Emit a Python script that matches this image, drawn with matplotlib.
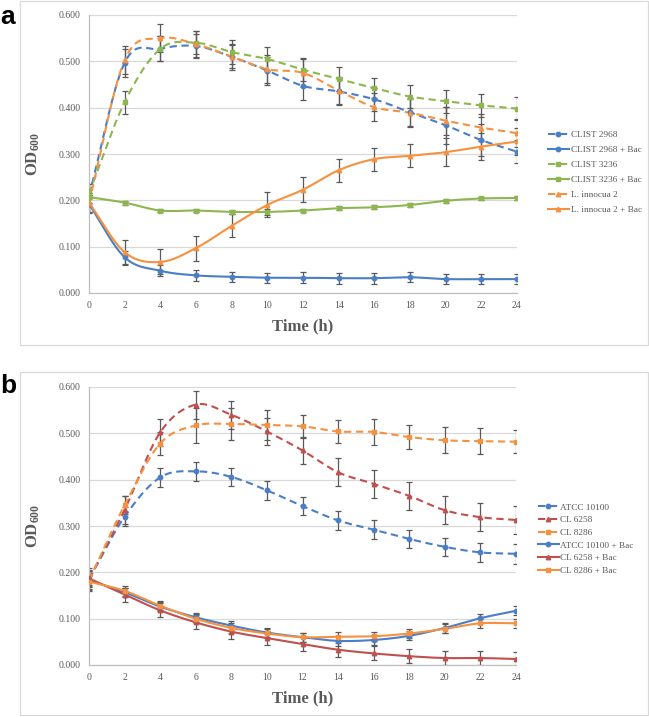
import numpy as np
import matplotlib
matplotlib.use('Agg')
import matplotlib.pyplot as plt
from matplotlib.patches import Rectangle
from matplotlib.lines import Line2D

hours = [0, 2, 4, 6, 8, 10, 12, 14, 16, 18, 20, 22, 24]

# panel a
clist2968 = [0.210, 0.497, 0.527, 0.533, 0.510, 0.480, 0.447, 0.435, 0.418, 0.390, 0.362, 0.330, 0.305]
clist2968_err = [0.025, 0.030, 0.027, 0.025, 0.025, 0.030, 0.030, 0.030, 0.025, 0.030, 0.040, 0.035, 0.025]
clist2968_bac = [0.192, 0.077, 0.048, 0.038, 0.035, 0.033, 0.033, 0.032, 0.032, 0.034, 0.030, 0.030, 0.030]
clist2968_bac_err = [0.020, 0.014, 0.012, 0.012, 0.011, 0.011, 0.012, 0.012, 0.012, 0.011, 0.011, 0.010, 0.010]
clist3236 = [0.215, 0.412, 0.527, 0.540, 0.520, 0.505, 0.482, 0.462, 0.442, 0.424, 0.414, 0.405, 0.398]
clist3236_err = [0.020, 0.025, 0.027, 0.025, 0.025, 0.025, 0.025, 0.025, 0.022, 0.025, 0.025, 0.025, 0.025]
clist3236_bac = [0.207, 0.195, 0.178, 0.178, 0.175, 0.175, 0.178, 0.183, 0.185, 0.190, 0.199, 0.204, 0.205]
clist3236_bac_err = [0.005, 0.004, 0.004, 0.004, 0.004, 0.006, 0.004, 0.004, 0.004, 0.004, 0.004, 0.004, 0.004]
innocua2 = [0.195, 0.503, 0.550, 0.537, 0.510, 0.483, 0.475, 0.437, 0.401, 0.389, 0.372, 0.357, 0.345]
innocua2_err = [0.020, 0.030, 0.030, 0.028, 0.028, 0.030, 0.030, 0.030, 0.030, 0.030, 0.030, 0.030, 0.030]
innocua2_bac = [0.195, 0.088, 0.067, 0.097, 0.145, 0.190, 0.223, 0.265, 0.289, 0.296, 0.304, 0.316, 0.327]
innocua2_bac_err = [0.020, 0.027, 0.027, 0.027, 0.025, 0.027, 0.027, 0.025, 0.025, 0.025, 0.030, 0.030, 0.030]

# panel b
atcc10100 = [0.185, 0.320, 0.405, 0.418, 0.406, 0.377, 0.343, 0.312, 0.292, 0.272, 0.255, 0.243, 0.240]
atcc10100_err = [0.020, 0.020, 0.020, 0.020, 0.020, 0.020, 0.020, 0.020, 0.020, 0.020, 0.020, 0.020, 0.022]
cl6258 = [0.185, 0.335, 0.502, 0.562, 0.540, 0.504, 0.463, 0.416, 0.391, 0.365, 0.334, 0.319, 0.313]
cl6258_err = [0.025, 0.030, 0.030, 0.030, 0.030, 0.030, 0.030, 0.030, 0.030, 0.030, 0.030, 0.030, 0.030]
cl8286 = [0.182, 0.345, 0.478, 0.517, 0.520, 0.518, 0.515, 0.504, 0.503, 0.492, 0.485, 0.483, 0.482]
cl8286_err = [0.020, 0.020, 0.025, 0.038, 0.035, 0.032, 0.025, 0.025, 0.028, 0.025, 0.028, 0.028, 0.025]
atcc10100_bac = [0.183, 0.157, 0.126, 0.103, 0.085, 0.070, 0.060, 0.052, 0.054, 0.063, 0.080, 0.101, 0.117]
atcc10100_bac_err = [0.012, 0.010, 0.010, 0.010, 0.010, 0.010, 0.010, 0.010, 0.010, 0.010, 0.010, 0.010, 0.010]
cl6258_bac = [0.187, 0.152, 0.118, 0.092, 0.072, 0.058, 0.045, 0.033, 0.025, 0.019, 0.015, 0.015, 0.013]
cl6258_bac_err = [0.015, 0.015, 0.015, 0.015, 0.015, 0.015, 0.015, 0.015, 0.015, 0.015, 0.015, 0.015, 0.015]
cl8286_bac = [0.180, 0.160, 0.128, 0.100, 0.080, 0.068, 0.060, 0.061, 0.062, 0.068, 0.078, 0.090, 0.090]
cl8286_bac_err = [0.012, 0.010, 0.010, 0.010, 0.010, 0.010, 0.010, 0.010, 0.010, 0.010, 0.010, 0.010, 0.010]

BLUE = '#4A7EC7'
GREEN = '#8DB74E'
ORANGE = '#F5913F'
RED = '#C0504D'
GREY = '#595959'
SERIF = 'Liberation Serif'
DASH = (0, (3.5, 2.2))


def smooth(x, y, n=20):
    # catmull-rom curve, close to excel "smoothed line"
    x = np.asarray(x, float)
    y = np.asarray(y, float)
    px = np.concatenate([[2 * x[0] - x[1]], x, [2 * x[-1] - x[-2]]])
    py = np.concatenate([[2 * y[0] - y[1]], y, [2 * y[-1] - y[-2]]])
    xs, ys = [], []
    t = np.linspace(0, 1, n, endpoint=False)
    for i in range(1, len(px) - 2):
        for p, out in ((px, xs), (py, ys)):
            p0, p1, p2, p3 = p[i - 1], p[i], p[i + 1], p[i + 2]
            out.extend(0.5 * (2 * p1 + (-p0 + p2) * t + (2 * p0 - 5 * p1 + 4 * p2 - p3) * t ** 2
                              + (-p0 + 3 * p1 - 3 * p2 + p3) * t ** 3))
    xs.append(x[-1])
    ys.append(y[-1])
    return xs, ys


def series(ax, y, err, color, marker, dashed, label):
    ls = DASH if dashed else '-'
    ax.errorbar(hours, y, yerr=err, fmt='none', ecolor=GREY, elinewidth=0.9, capsize=2, capthick=0.9, zorder=2)
    sx, sy = smooth(hours, y)
    ax.plot(sx, sy, color=color, lw=1.5, linestyle=ls, zorder=3)
    ax.plot(hours, y, linestyle='none', marker=marker, ms=3.2, color=color, zorder=4)
    return Line2D([], [], color=color, lw=1.5, linestyle=ls, marker=marker, ms=3.2, label=label)


def style_axes(ax):
    ax.set_xlim(0, 24)
    ax.set_ylim(0, 0.6)
    ax.set_xticks(hours)
    ax.set_yticks(np.arange(0, 0.61, 0.1))
    ax.set_yticklabels(['%.3f' % v for v in np.arange(0, 0.61, 0.1)])
    ax.yaxis.grid(True, color='#D9D9D9', lw=0.9)
    ax.set_axisbelow(True)
    for s in ['top', 'right']:
        ax.spines[s].set_visible(False)
    for s in ['left', 'bottom']:
        ax.spines[s].set_color('#BFBFBF')
        ax.spines[s].set_linewidth(0.9)
    ax.tick_params(length=0, labelsize=7, labelcolor=GREY, pad=6)
    for lab in ax.get_xticklabels() + ax.get_yticklabels():
        lab.set_family(SERIF)
    ax.set_xlabel('Time (h)', family=SERIF, fontsize=12, fontweight='bold', color=GREY, labelpad=6)
    ax.set_ylabel(r'OD$_{600}$', family=SERIF, fontsize=12, fontweight='bold', color=GREY, labelpad=12)


plt.rcParams['mathtext.fontset'] = 'custom'
plt.rcParams['mathtext.rm'] = 'Liberation Serif:bold'
plt.rcParams['mathtext.it'] = 'Liberation Serif:bold'
plt.rcParams['mathtext.bf'] = 'Liberation Serif:bold'

fig = plt.figure(figsize=(6.49, 7.17), dpi=100)
W, H = 649.0, 717.0

# panel frames
for top, bottom in [(1, 345), (372, 715)]:
    fig.add_artist(Rectangle((20 / W, 1 - bottom / H), 628 / W, (bottom - top) / H,
                             transform=fig.transFigure, fill=False, edgecolor='#D9D9D9', lw=0.9))

ax_a = fig.add_axes([89 / W, 1 - 293 / H, 428 / W, 278 / H])
handles_a = [
    series(ax_a, clist2968, clist2968_err, BLUE, 'o', True, 'CLIST 2968'),
    series(ax_a, clist2968_bac, clist2968_bac_err, BLUE, 'o', False, 'CLIST 2968 + Bac'),
    series(ax_a, clist3236, clist3236_err, GREEN, 's', True, 'CLIST 3236'),
    series(ax_a, clist3236_bac, clist3236_bac_err, GREEN, 's', False, 'CLIST 3236 + Bac'),
    series(ax_a, innocua2, innocua2_err, ORANGE, '^', True, 'L. innocua 2'),
    series(ax_a, innocua2_bac, innocua2_bac_err, ORANGE, '^', False, 'L. innocua 2 + Bac'),
]
style_axes(ax_a)
ax_a.legend(handles=handles_a, loc='center left', bbox_to_anchor=(1.063, 0.435), frameon=False,
            prop={'family': SERIF, 'size': 6.7}, labelcolor=GREY, handlelength=2.3,
            handletextpad=0.2, labelspacing=0.7, borderaxespad=0)

ax_b = fig.add_axes([89 / W, 1 - 665 / H, 427 / W, 278 / H])
handles_b = [
    series(ax_b, atcc10100, atcc10100_err, BLUE, 'o', True, 'ATCC 10100'),
    series(ax_b, cl6258, cl6258_err, RED, '^', True, 'CL 6258'),
    series(ax_b, cl8286, cl8286_err, ORANGE, 's', True, 'CL 8286'),
    series(ax_b, atcc10100_bac, atcc10100_bac_err, BLUE, 'o', False, 'ATCC 10100 + Bac'),
    series(ax_b, cl6258_bac, cl6258_bac_err, RED, '^', False, 'CL 6258 + Bac'),
    series(ax_b, cl8286_bac, cl8286_bac_err, ORANGE, 's', False, 'CL 8286 + Bac'),
]
style_axes(ax_b)
ax_b.legend(handles=handles_b, loc='center left', bbox_to_anchor=(1.043, 0.453), frameon=False,
            prop={'family': SERIF, 'size': 6.7}, labelcolor=GREY, handlelength=2.2,
            handletextpad=0.2, labelspacing=0.45, borderaxespad=0)

fig.text(0 / W, 1 - 24 / H, 'a', family='Liberation Sans', fontsize=19, fontweight='bold')
fig.text(0 / W, 1 - 393 / H, 'b', family='Liberation Sans', fontsize=19, fontweight='bold')

fig.savefig('out.png', dpi=100)
